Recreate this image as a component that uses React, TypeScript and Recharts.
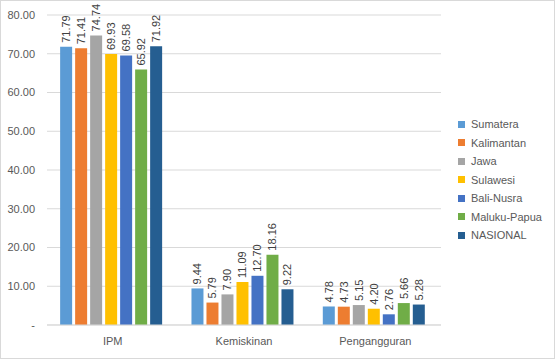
import { BarChart, Bar, XAxis, YAxis, CartesianGrid, LabelList } from 'recharts'

const categories = ['IPM', 'Kemiskinan', 'Pengangguran']
const seriesNames = ['Sumatera', 'Kalimantan', 'Jawa', 'Sulawesi', 'Bali-Nusra', 'Maluku-Papua', 'NASIONAL']
const sumatera = [71.79, 9.44, 4.78]
const kalimantan = [71.41, 5.79, 4.73]
const jawa = [74.74, 7.9, 5.15]
const sulawesi = [69.93, 11.09, 4.2]
const baliNusra = [69.58, 12.7, 2.76]
const malukuPapua = [65.92, 18.16, 5.66]
const nasional = [71.92, 9.22, 5.28]
const yTicks = [0, 10, 20, 30, 40, 50, 60, 70, 80]

const colors = ['#5B9BD5', '#ED7D31', '#A5A5A5', '#FFC000', '#4472C4', '#70AD47', '#255E91']
const seriesValues = [sumatera, kalimantan, jawa, sulawesi, baliNusra, malukuPapua, nasional]

const data = categories.map((cat, i) => {
  const row: any = { name: cat }
  seriesNames.forEach((s, j) => {
    row[s] = seriesValues[j][i]
  })
  return row
})

const FONT = '"Liberation Sans", Arial, sans-serif'

const RotatedLabel = (props: any) => {
  const { x, y, width, value } = props
  const cx = x + width / 2
  const cy = y - 4
  return (
    <text
      transform={`translate(${cx}, ${cy}) rotate(-90)`}
      textAnchor="start"
      dominantBaseline="central"
      fontSize={11}
      fontFamily={FONT}
      fill="#404040"
    >
      {Number(value).toFixed(2)}
    </text>
  )
}

const legendStyle: React.CSSProperties = {
  position: 'absolute',
  left: 457,
  top: 114,
  fontFamily: FONT,
  fontSize: 11,
  color: '#595959',
}

const App = () => {
  const frameStyle: React.CSSProperties = {
    width: 555,
    height: 359,
    boxSizing: 'border-box',
    border: '1px solid #d9d9d9',
    background: '#fff',
    position: 'relative',
  }

  return (
    <div style={frameStyle}>
      <style>{`body{margin:0}`}</style>
      <BarChart
        width={553}
        height={357}
        data={data}
        margin={{ top: 14, right: 113, bottom: 3, left: 0 }}
        barCategoryGap="10%"
        barGap={3}
      >
        <CartesianGrid stroke="#d9d9d9" vertical={false} />
        <XAxis
          dataKey="name"
          height={30}
          axisLine={{ stroke: '#d9d9d9' }}
          tickLine={false}
          tick={{ fontSize: 11, fontFamily: FONT, fill: '#595959' }}
          tickMargin={6}
        />
        <YAxis
          width={46}
          domain={[0, 80]}
          ticks={yTicks}
          axisLine={false}
          tickLine={false}
          tick={{ fontSize: 11, fontFamily: FONT, fill: '#595959' }}
          tickFormatter={(v) => (v === 0 ? '-' : v.toFixed(2))}
          tickMargin={6}
        />
        {seriesNames.map((s, i) => (
          <Bar key={s} dataKey={s} fill={colors[i]} isAnimationActive={false}>
            <LabelList dataKey={s} content={<RotatedLabel />} />
          </Bar>
        ))}
      </BarChart>
      <div style={legendStyle}>
        {seriesNames.map((s, i) => (
          <div key={s} style={{ display: 'flex', alignItems: 'center', height: 18.5 }}>
            <span style={{ width: 7, height: 7, background: colors[i], marginRight: 6, display: 'inline-block' }} />
            <span>{s}</span>
          </div>
        ))}
      </div>
    </div>
  )
}

export default App
